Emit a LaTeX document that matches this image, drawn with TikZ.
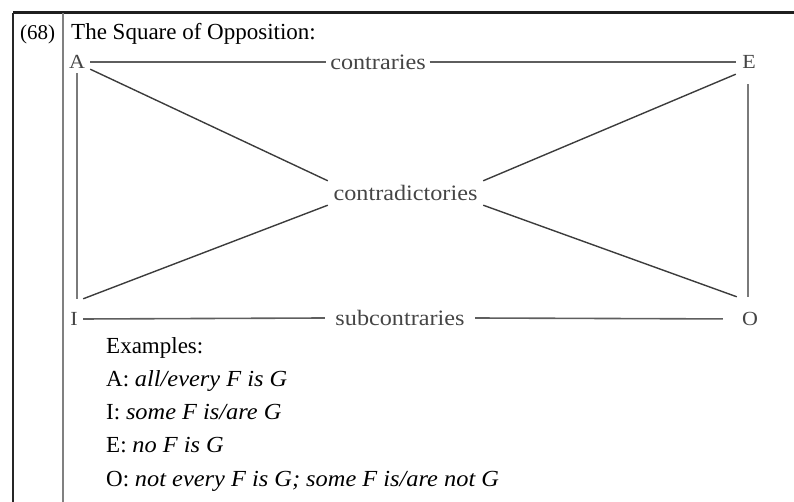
\documentclass[tikz,border=0pt]{standalone}
\usepackage{fontspec}
\setmainfont{Liberation Serif}
\newfontfamily\diagfont[FakeStretch=1.1]{Liberation Serif}
\newcommand\exital[1]{{\itshape\addfontfeature{FakeStretch=1.06}#1}}
\definecolor{diagtext}{HTML}{454545}
\definecolor{diagline}{HTML}{3C3C3C}
\definecolor{sideline}{HTML}{7A7A7A}
\definecolor{hzline}{HTML}{5E5E5E}
\begin{document}
\begin{tikzpicture}[x=1pt,y=1pt,
  maintext/.style={font=\fontsize{23}{27}\selectfont, text=black, inner sep=0pt},
  corner/.style={font=\diagfont\fontsize{20}{24}\selectfont, text=diagtext, inner sep=0pt, minimum width=26pt},
  lbl/.style={font=\diagfont\fontsize{22}{26}\selectfont, text=diagtext, inner sep=0pt},
  hline/.style={draw=hzline, line width=1.6pt},
  vline/.style={draw=sideline, line width=1.8pt},
  dline/.style={draw=diagline, line width=1.4pt}]
\useasboundingbox (0,0) rectangle (794,502);
% frame
\draw[line width=3pt, black!88] (13,489) -- (794,489);
\draw[line width=2pt, black!85] (13,489) -- (13,0);
\draw[line width=1.5pt, black!50] (63,489) -- (63,0);
% header
\node[maintext, font=\fontsize{21}{25}\selectfont, anchor=base west] (num) at (20,462) {(68)};
\node[maintext, anchor=base west] (title) at (71,462) {The Square of Opposition:};
% square
\node[corner, minimum height=14pt] (A) at (77,440) {A};
\node[corner, minimum height=24pt] (E) at (749,440) {E};
\node[corner, minimum height=40pt, minimum width=18pt] (I) at (74,183) {I};
\node[corner, minimum height=44pt] (O) at (750,183) {O};
\node[lbl, minimum width=103pt] (contr) at (378,440) {contraries};
\node[lbl, minimum width=150pt] (sub) at (400,184) {subcontraries};
\node[lbl, minimum width=155pt, minimum height=24pt] (cd) at (405.5,309) {contradictories};
\draw[hline] (A.east) -- (contr.west);
\draw[hline] (contr.east) -- (E.west);
\draw[hline] (I.east) -- (sub.west);
\draw[hline, shorten >=14pt] (sub.east) -- (O.west);
\draw[vline] ([yshift=-4pt]A.south) -- (A.south |- I.north);
\draw[vline] ([xshift=-1pt,yshift=-10pt]E.south) -- ([xshift=-1pt]E.south |- O.north);
\draw[dline] (A.south east) -- (cd.north west);
\draw[dline] (I.north east) -- (cd.south west);
\draw[dline] (cd.north east) -- (E.south west);
\draw[dline] (cd.south east) -- (O.north west);
% examples
\node[maintext, anchor=base west] (ex) at (106,148) {Examples:};
\node[maintext, anchor=base west] (exA) at (106,115) {A: \exital{all/every F is G}};
\node[maintext, anchor=base west] (exI) at (106,82) {I: \exital{some F is/are G}};
\node[maintext, anchor=base west] (exE) at (106,49) {E: \exital{no F is G}};
\node[maintext, anchor=base west] (exO) at (106,15) {O: \exital{not every F is G; some F is/are not G}};
\end{tikzpicture}
\end{document}
